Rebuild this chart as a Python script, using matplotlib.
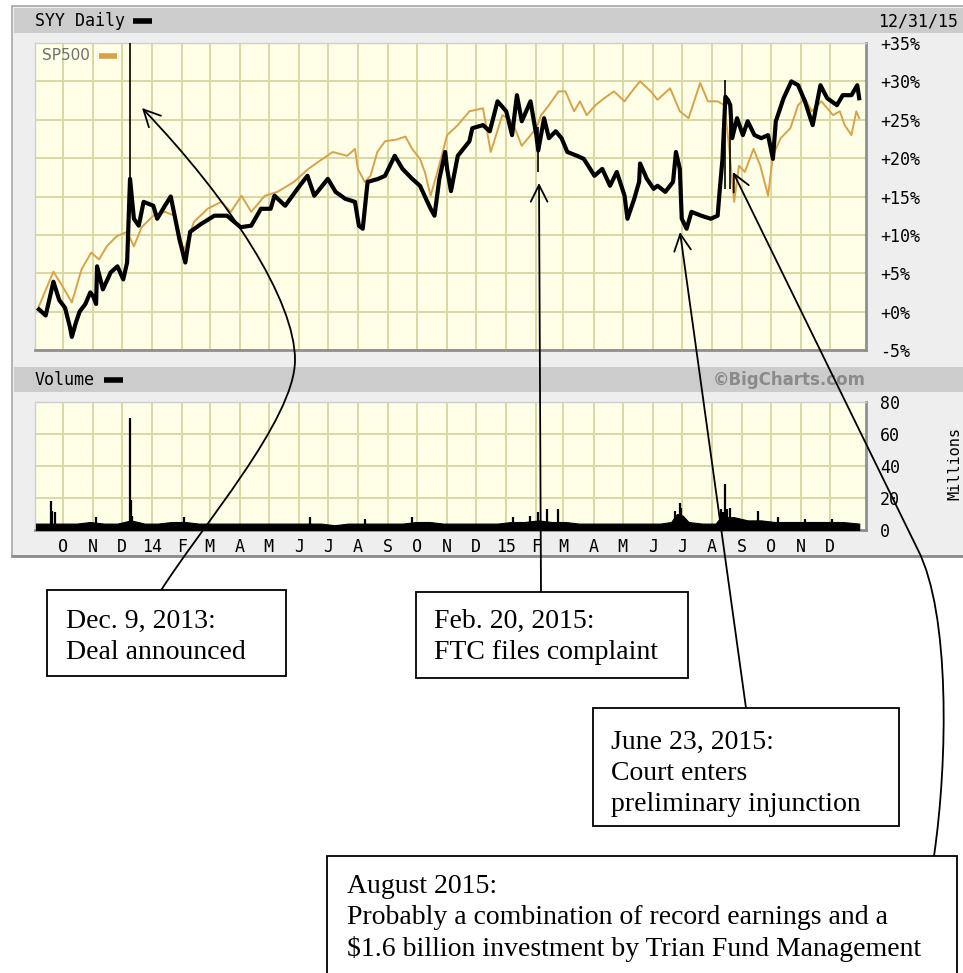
import matplotlib
matplotlib.use("Agg")
import matplotlib.pyplot as plt
import pandas as pd
from matplotlib.patches import Rectangle, FancyArrowPatch
from matplotlib.path import Path

W, H = 963, 973

# SYY daily, % change from start
syy_dates = ['2013-09-06', '2013-09-13', '2013-09-21', '2013-09-27', '2013-10-03', '2013-10-08', '2013-10-10',
             '2013-10-14', '2013-10-18', '2013-10-24', '2013-10-29', '2013-11-01', '2013-11-04', '2013-11-05',
             '2013-11-11', '2013-11-19', '2013-11-26', '2013-12-02', '2013-12-06', '2013-12-09', '2013-12-13',
             '2013-12-18', '2013-12-23', '2014-01-02', '2014-01-06', '2014-01-14', '2014-01-20', '2014-01-24',
             '2014-01-29', '2014-02-04', '2014-02-09', '2014-02-20', '2014-03-06', '2014-03-19', '2014-04-02',
             '2014-04-13', '2014-04-23', '2014-05-03', '2014-05-07', '2014-05-18', '2014-06-02', '2014-06-10',
             '2014-06-17', '2014-07-01', '2014-07-09', '2014-07-19', '2014-07-29', '2014-08-02', '2014-08-06',
             '2014-08-11', '2014-08-22', '2014-08-29', '2014-09-08', '2014-09-16', '2014-09-26', '2014-10-04',
             '2014-10-15', '2014-10-19', '2014-10-24', '2014-10-30', '2014-11-01', '2014-11-05', '2014-11-12',
             '2014-11-24', '2014-11-27', '2014-12-08', '2014-12-15', '2014-12-23', '2015-01-01', '2015-01-07',
             '2015-01-12', '2015-01-17', '2015-01-26', '2015-02-01', '2015-02-03', '2015-02-09', '2015-02-14',
             '2015-02-21', '2015-02-27', '2015-03-05', '2015-03-15', '2015-03-22', '2015-04-02', '2015-04-10',
             '2015-04-18', '2015-04-25', '2015-05-03', '2015-05-06', '2015-05-13', '2015-05-18', '2015-05-19',
             '2015-05-26', '2015-06-02', '2015-06-06', '2015-06-14', '2015-06-22', '2015-06-25', '2015-06-29',
             '2015-07-01', '2015-07-06', '2015-07-11', '2015-07-21', '2015-07-31', '2015-08-07', '2015-08-09',
             '2015-08-12', '2015-08-15', '2015-08-18', '2015-08-20', '2015-08-22', '2015-08-27', '2015-09-02',
             '2015-09-07', '2015-09-14', '2015-09-21', '2015-09-28', '2015-10-03', '2015-10-06', '2015-10-14',
             '2015-10-22', '2015-10-29', '2015-11-05', '2015-11-13', '2015-11-21', '2015-11-28', '2015-12-08',
             '2015-12-14', '2015-12-23', '2015-12-29', '2015-12-31']
syy_pct = [0.3, -0.5, 3.9, 1.5, 0.5, -2.0, -3.3,
           -1.5, 0.0, 1.0, 2.5, 2.0, 1.0, 5.9,
           2.9, 5.1, 5.9, 4.2, 6.4, 17.3, 12.1,
           11.2, 14.3, 13.8, 12.1, 13.8, 15.0, 12.5,
           9.4, 6.4, 10.4, 11.4, 12.5, 12.5, 11.0,
           11.2, 13.4, 13.4, 15.1, 13.8, 16.4, 17.7,
           15.1, 17.3, 15.6, 14.7, 14.3, 11.2, 10.8,
           16.9, 17.3, 17.7, 20.3, 18.6, 17.3, 16.4,
           13.4, 12.5, 17.3, 20.8, 18.6, 15.7, 20.3,
           22.2, 23.9, 24.3, 23.5, 27.4, 26.1, 23.0,
           28.2, 24.8, 27.4, 23.0, 21.0, 25.2, 22.6,
           23.5, 22.6, 20.8, 20.3, 19.9, 17.7, 18.6,
           16.4, 18.2, 15.1, 12.1, 14.7, 16.9, 19.3,
           17.3, 16.0, 16.4, 15.6, 16.9, 20.8, 18.6,
           12.1, 10.8, 13.0, 12.5, 12.1, 12.5, 15.6,
           19.9, 28.0, 27.5, 26.9, 22.6, 25.2, 23.0,
           24.8, 23.0, 22.6, 23.0, 19.9, 24.8, 27.8,
           30.0, 29.5, 27.4, 24.3, 29.5, 27.8, 26.9,
           28.2, 28.2, 29.5, 27.8]

# intraday spikes (date, low, high)
wick_dates = ['2013-12-09', '2015-02-03', '2015-08-15', '2015-08-20']
wick_low = [17.3, 18.2, 16.0, 16.0]
wick_high = [35.0, 24.0, 30.2, 26.9]

# S&P 500, % change from start
sp_dates = ['2013-09-06', '2013-09-21', '2013-09-28', '2013-10-10', '2013-10-20', '2013-10-30', '2013-11-07',
            '2013-11-15', '2013-11-25', '2013-12-06', '2013-12-13', '2013-12-21', '2014-01-02', '2014-01-14',
            '2014-01-24', '2014-01-30', '2014-02-03', '2014-02-13', '2014-02-27', '2014-03-13', '2014-03-23',
            '2014-04-03', '2014-04-13', '2014-04-27', '2014-05-10', '2014-05-27', '2014-06-11', '2014-06-21',
            '2014-07-06', '2014-07-21', '2014-07-29', '2014-08-01', '2014-08-08', '2014-08-14', '2014-08-21',
            '2014-08-29', '2014-09-09', '2014-09-19', '2014-09-26', '2014-10-04', '2014-10-09', '2014-10-15',
            '2014-10-22', '2014-11-01', '2014-11-12', '2014-11-24', '2014-12-08', '2014-12-16', '2014-12-28',
            '2015-01-07', '2015-01-17', '2015-02-01', '2015-02-06', '2015-02-14', '2015-02-24', '2015-03-03',
            '2015-03-12', '2015-03-18', '2015-03-25', '2015-04-03', '2015-04-12', '2015-04-22', '2015-05-03',
            '2015-05-13', '2015-05-19', '2015-05-30', '2015-06-06', '2015-06-19', '2015-06-29', '2015-07-08',
            '2015-07-20', '2015-07-28', '2015-08-07', '2015-08-14', '2015-08-19', '2015-08-24', '2015-08-29',
            '2015-09-04', '2015-09-13', '2015-09-20', '2015-09-28', '2015-10-03', '2015-10-11', '2015-10-21',
            '2015-10-29', '2015-11-05', '2015-11-12', '2015-11-22', '2015-12-04', '2015-12-11', '2015-12-16',
            '2015-12-23', '2015-12-28', '2015-12-31']
sp_pct = [0.7, 5.2, 3.8, 1.2, 5.5, 7.7, 6.8,
          8.5, 9.8, 10.4, 8.5, 11.0, 12.5, 13.0,
          12.5, 9.0, 8.1, 11.7, 13.4, 14.3, 13.0,
          15.1, 13.0, 15.1, 15.6, 16.9, 18.6, 19.5,
          20.8, 20.3, 21.2, 18.6, 16.9, 17.7, 20.8,
          22.2, 22.4, 22.8, 21.2, 19.9, 18.2, 15.1,
          18.2, 23.0, 24.3, 26.1, 26.5, 20.8, 25.6,
          24.8, 21.6, 23.9, 25.6, 26.9, 28.7, 28.7,
          26.1, 27.4, 25.6, 26.9, 27.8, 28.7, 27.4,
          29.1, 30.0, 28.7, 27.6, 29.1, 26.1, 25.2,
          29.8, 27.4, 27.4, 26.9, 21.2, 14.3, 19.0,
          18.2, 21.2, 19.0, 15.1, 20.3, 22.6, 23.9,
          26.9, 27.8, 26.1, 27.4, 25.6, 26.1, 24.3,
          23.0, 26.1, 25.2]

# SYY volume, millions of shares: everyday level ...
vol_dates = ['2013-09-03', '2013-09-17', '2013-10-01', '2013-10-15', '2013-10-29', '2013-11-12', '2013-11-26',
             '2013-12-10', '2013-12-24', '2014-01-07', '2014-01-21', '2014-02-04', '2014-02-18', '2014-03-04',
             '2014-03-18', '2014-04-01', '2014-04-15', '2014-04-29', '2014-05-13', '2014-05-27', '2014-06-10',
             '2014-06-24', '2014-07-08', '2014-07-22', '2014-08-05', '2014-08-19', '2014-09-02', '2014-09-16',
             '2014-09-30', '2014-10-14', '2014-10-28', '2014-11-11', '2014-11-25', '2014-12-09', '2014-12-23',
             '2015-01-06', '2015-01-20', '2015-02-03', '2015-02-17', '2015-03-03', '2015-03-17', '2015-03-31',
             '2015-04-14', '2015-04-28', '2015-05-12', '2015-05-26', '2015-06-09', '2015-06-20', '2015-06-26',
             '2015-07-02', '2015-07-08', '2015-07-22', '2015-08-05', '2015-08-10', '2015-08-24', '2015-09-07',
             '2015-09-21', '2015-10-05', '2015-10-19', '2015-11-02', '2015-11-16', '2015-11-30', '2015-12-14',
             '2015-12-31']
vol_mil = [4, 4, 4, 4, 5, 4, 4,
           6, 4, 4, 5, 5, 4, 4,
           4, 4, 4, 4, 4, 4, 4,
           4, 3, 4, 4, 4, 4, 4,
           5, 5, 4, 4, 4, 4, 4,
           5, 5, 6, 5, 5, 4, 4,
           4, 4, 4, 4, 4, 5, 10,
           9, 5, 4, 4, 8, 8, 6,
           6, 5, 5, 5, 5, 5, 5,
           4]
# ... and single-day spikes
spike_dates = ['2013-09-19', '2013-09-20', '2013-09-23', '2013-11-04', '2013-12-09', '2013-12-10', '2013-12-11',
               '2014-02-03', '2014-06-13', '2014-08-08', '2014-09-26', '2015-01-08', '2015-01-26', '2015-02-03',
               '2015-02-12', '2015-02-23', '2015-06-24', '2015-06-29', '2015-06-30', '2015-08-10', '2015-08-13',
               '2015-08-15', '2015-08-17', '2015-08-20', '2015-09-18', '2015-10-08', '2015-11-05', '2015-12-03']
spike_mil = [18, 12, 11, 8, 70, 19, 9,
             8, 8, 7, 8, 8, 9, 11,
             13, 13, 12, 17, 14, 13, 11,
             29, 13, 14, 12, 8, 7, 7]

month_labels = ['O', 'N', 'D', '14', 'F', 'M', 'A', 'M', 'J', 'J', 'A', 'S', 'O', 'N',
                'D', '15', 'F', 'M', 'A', 'M', 'J', 'J', 'A', 'S', 'O', 'N', 'D']
pct_ticks = [35, 30, 25, 20, 15, 10, 5, 0, -5]
vol_ticks = [0, 20, 40, 60, 80]

BG = '#fffee6'
GRID = '#d8d8a4'
PANEL = '#eeeeee'
BAR = '#cccccc'
ORANGE = '#d9a24a'
MONO = 'DejaVu Sans Mono'


def rect(x0, y0, x1, y1):
    return [x0 / W, 1 - y1 / H, (x1 - x0) / W, (y1 - y0) / H]


def style_panel(a):
    a.set_facecolor(BG)
    a.grid(True, color=GRID, lw=1.4, zorder=0)
    a.set_axisbelow(True)
    a.yaxis.tick_right()
    a.tick_params(axis='y', length=0, pad=10, labelsize=12)
    for s in ['left', 'top']:
        a.spines[s].set_color('#cfcfcf')
        a.spines[s].set_linewidth(1)
    for s in ['right', 'bottom']:
        a.spines[s].set_color('#8f8f8f')
        a.spines[s].set_linewidth(2)


fig = plt.figure(figsize=(W / 100, H / 100), dpi=100)

# background chrome in pixel coordinates
bg = fig.add_axes([0, 0, 1, 1], zorder=0)
bg.set_xlim(0, W)
bg.set_ylim(H, 0)
bg.axis('off')
bg.add_patch(Rectangle((12, 6), 960, 550, fc=PANEL, ec='#a8a8a8', lw=1.2))
bg.add_patch(Rectangle((14, 8), 960, 25, fc=BAR, ec='none'))
bg.add_patch(Rectangle((14, 367), 960, 25, fc=BAR, ec='none'))
bg.plot([12, 963], [556, 556], color='#8c8c8c', lw=2)
bg.text(35, 21, 'SYY Daily', family=MONO, fontsize=12, va='center')
bg.plot([133, 152], [21, 21], color='black', lw=4, solid_capstyle='butt')
bg.text(958, 21, '12/31/15', family=MONO, fontsize=12, va='center', ha='right')
bg.text(35, 380, 'Volume', family=MONO, fontsize=12, va='center')
bg.plot([104, 123], [380, 380], color='black', lw=4, solid_capstyle='butt')
bg.text(866, 380, '\u00a9BigCharts.com', fontsize=12, fontweight='bold', color='#8a8a8a',
        va='center', ha='right')
bg.text(955, 463, 'Millions', family=MONO, fontsize=11, rotation=90, va='center', ha='center')

months = pd.date_range('2013-10-01', '2015-12-01', freq='MS')
xmin, xmax = pd.Timestamp('2013-09-02'), pd.Timestamp('2016-01-07')

# price panel
ax = fig.add_axes(rect(35, 43, 866, 350), zorder=1)
style_panel(ax)
ax.plot(pd.to_datetime(sp_dates), sp_pct, color=ORANGE, lw=1.4, zorder=3)
ax.plot(pd.to_datetime(syy_dates), syy_pct, color='black', lw=3, zorder=4)
ax.vlines(pd.to_datetime(wick_dates), wick_low, wick_high, color='black', lw=1.2, zorder=4)
ax.set_xlim(xmin, xmax)
ax.set_ylim(-5, 35)
ax.set_xticks(months)
ax.set_yticks(pct_ticks)
ax.set_yticklabels([('+%d%%' % v) if v >= 0 else ('-%d%%' % -v) for v in pct_ticks])
ax.tick_params(axis='x', length=0, labelbottom=False)
for lab in ax.get_yticklabels():
    lab.set_family(MONO)

# volume panel
axv = fig.add_axes(rect(35, 402, 866, 530), zorder=1)
style_panel(axv)
axv.fill_between(pd.to_datetime(vol_dates), vol_mil, color='black', lw=0.8, zorder=3)
axv.vlines(pd.to_datetime(spike_dates), 0, spike_mil, color='black', lw=1.6, zorder=3)
axv.set_xlim(xmin, xmax)
axv.set_ylim(0, 80)
axv.set_yticks(vol_ticks)
axv.set_xticks(months)
axv.set_xticklabels(month_labels)
axv.tick_params(axis='x', length=0, pad=6, labelsize=12)
for lab in axv.get_yticklabels() + axv.get_xticklabels():
    lab.set_family(MONO)

# overlay: legend, callout boxes and arrows (pixel coordinates)
top = fig.add_axes([0, 0, 1, 1], zorder=5)
top.set_xlim(0, W)
top.set_ylim(H, 0)
top.axis('off')
top.patch.set_alpha(0)
top.text(42, 56, 'SP500', fontsize=11, color='#707070', va='center')
top.plot([99, 117], [56, 56], color=ORANGE, lw=4, solid_capstyle='butt')

arrow_kw = dict(arrowstyle='->,head_length=0.6,head_width=0.3', mutation_scale=20,
                color='black', lw=1.3)
curve1 = Path([(160, 592), (200, 528), (295, 420), (295, 360),
               (295, 300), (230, 200), (142, 108)],
              [Path.MOVETO, Path.CURVE4, Path.CURVE4, Path.CURVE4,
               Path.CURVE4, Path.CURVE4, Path.CURVE4])
top.add_patch(FancyArrowPatch(path=curve1, **arrow_kw))
top.add_patch(FancyArrowPatch((541, 592), (539, 183), shrinkA=0, shrinkB=0, **arrow_kw))
top.add_patch(FancyArrowPatch((746, 708), (680, 232), shrinkA=0, shrinkB=0, **arrow_kw))
curve4 = Path([(934, 856), (948, 760), (950, 613), (918, 550), (733, 172)],
              [Path.MOVETO, Path.CURVE4, Path.CURVE4, Path.CURVE4, Path.LINETO])
top.add_patch(FancyArrowPatch(path=curve4, **arrow_kw))

boxes = [((47, 590, 286, 676), (66, 609), 'Dec. 9, 2013:\nDeal announced'),
         ((416, 592, 688, 678), (434, 609), 'Feb. 20, 2015:\nFTC files complaint'),
         ((593, 708, 899, 826), (611, 730), 'June 23, 2015:\nCourt enters\npreliminary injunction'),
         ((327, 856, 957, 990), (347, 874),
          'August 2015:\nProbably a combination of record earnings and a\n'
          '$1.6 billion investment by Trian Fund Management')]
for (x0, y0, x1, y1), (tx, ty), txt in boxes:
    top.add_patch(Rectangle((x0, y0), x1 - x0, y1 - y0, fc='white', ec='black', lw=1.3, zorder=2))
    top.text(tx, ty, txt, family='Liberation Serif', fontsize=20, va='top', ha='left',
             linespacing=1.32, zorder=3)

fig.savefig('out.png', dpi=100)
